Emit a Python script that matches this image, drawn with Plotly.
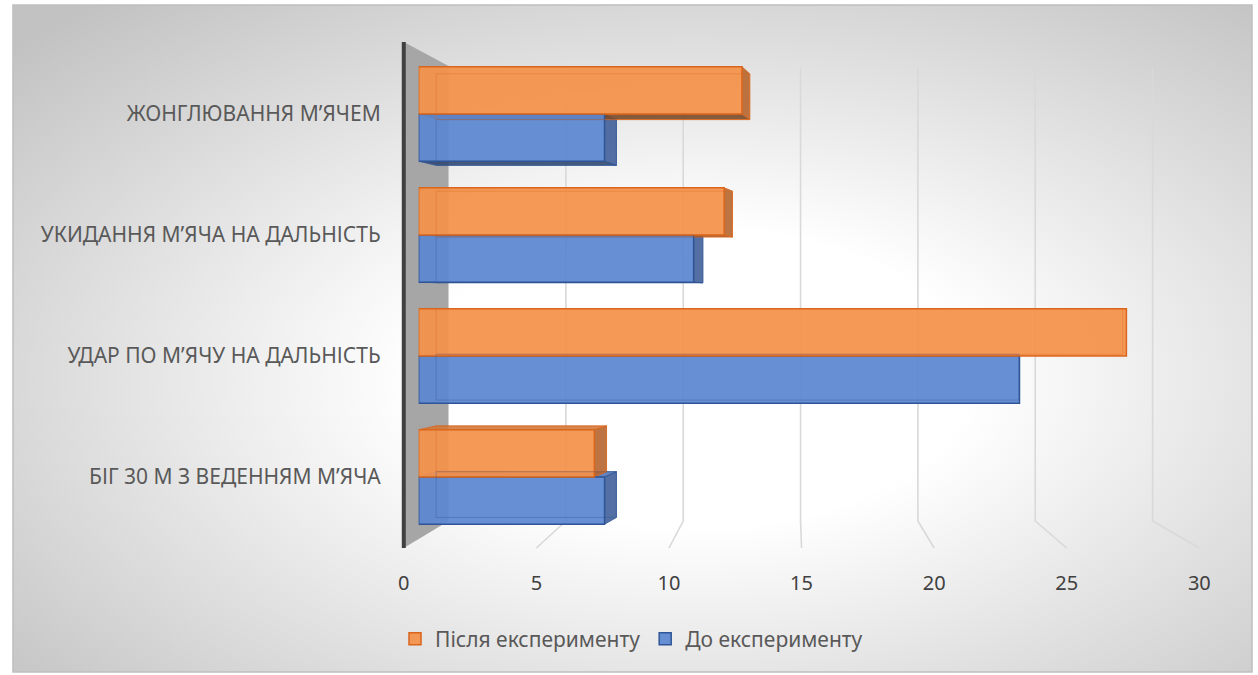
import base64
import plotly.graph_objects as go

# ---- data ----
categories = [
    "БІГ 30 М З ВЕДЕННЯМ М’ЯЧА",
    "УДАР ПО М’ЯЧУ НА ДАЛЬНІСТЬ",
    "УКИДАННЯ М’ЯЧА НА ДАЛЬНІСТЬ",
    "ЖОНГЛЮВАННЯ М’ЯЧЕМ",
]
before = [7.3, 23.6, 10.8, 7.3]   # До експерименту
after = [6.9, 27.8, 12.0, 12.7]   # Після експерименту
series_names = ["До експерименту", "Після експерименту"]
x_ticks = [0, 5, 10, 15, 20, 25, 30]

# ---- geometry (pixels of the 1258x675 canvas) ----
W, H = 1258, 675
FIG_W = 1268                        # page width the figure is laid out on
X_MAX = 30
BAR_X0, BAR_X1 = 415, 1183          # bar plane: value 0 .. 30
FRONT_X0, FRONT_X1 = 400, 1200      # floor front edge (tick labels)
BACK_X0, BACK_X1 = 445, 1153        # back wall plane (gridlines)
PLOT_TOP, PLOT_BOT = 53.5, 537.5    # category band range
BACK_TOP, BACK_BOT, FLOOR_Y = 68, 521, 548
WALL_TOP = 42
BARGAP = 0.22

def px(x):
    return x / W

def py(y):
    return 1 - y / H

FONT = "Noto Sans"
TXT = "#595959"

ORANGE = dict(fill="rgba(244,145,74,0.93)", line="#D9661C",
              right="#B8662E", top="#D27A3C", bottom="#7A4B2B")
BLUE = dict(fill="rgba(91,135,208,0.93)", line="#2F5597",
            right="#41609A", top="#5577B8", bottom="#33496F")

fig = go.Figure()
fig.add_trace(go.Bar(
    y=categories, x=before, name=series_names[0], orientation="h",
    marker=dict(color=BLUE["fill"], line=dict(color=BLUE["line"], width=1.5)),
))
fig.add_trace(go.Bar(
    y=categories, x=after, name=series_names[1], orientation="h",
    marker=dict(color=ORANGE["fill"], line=dict(color=ORANGE["line"], width=1.5)),
))
# carrier for the front-edge value axis
fig.add_trace(go.Scatter(
    x=[0, X_MAX], y=[categories[0], categories[0]], xaxis="x2", yaxis="y",
    mode="none", showlegend=False, hoverinfo="skip",
))

shapes = []

# side wall with its dark front edge
shapes.append(dict(
    type="path", xref="paper", yref="paper", layer="below",
    path=(f"M {px(FRONT_X0)},{py(WALL_TOP)} L {px(BACK_X0)},{py(BACK_TOP - 2)} "
          f"L {px(BACK_X0)},{py(BACK_BOT)} L {px(FRONT_X0)},{py(FLOOR_Y)} Z"),
    fillcolor="#A6A6A6", line=dict(width=0),
))
shapes.append(dict(
    type="line", xref="paper", yref="paper", layer="below",
    x0=px(FRONT_X0), x1=px(FRONT_X0), y0=py(WALL_TOP), y1=py(FLOOR_Y),
    line=dict(color="#404040", width=4),
))

# perspective gridlines: up the back wall, then across the floor
for v in x_ticks[1:]:
    bx = BACK_X0 + (BACK_X1 - BACK_X0) * v / X_MAX
    fx = FRONT_X0 + (FRONT_X1 - FRONT_X0) * v / X_MAX
    shapes.append(dict(
        type="path", xref="paper", yref="paper", layer="below",
        path=(f"M {px(bx)},{py(BACK_TOP)} L {px(bx)},{py(BACK_BOT)} "
              f"L {px(fx)},{py(FLOOR_Y)}"),
        line=dict(color="#D9D9D9", width=1.6),
    ))

# depth faces of the boxes, receding toward a vanishing point
px_per_x = (BAR_X1 - BAR_X0) / X_MAX
px_per_cat = (PLOT_BOT - PLOT_TOP) / len(categories)
VP_PX = (1000, 300)
DEPTH = 0.03
vp = ((VP_PX[0] - BAR_X0) / px_per_x, -0.5 + (PLOT_BOT - VP_PX[1]) / px_per_cat)
bar_w = (1 - BARGAP) / 2

def recede(x, y):
    return x + DEPTH * (vp[0] - x), y + DEPTH * (vp[1] - y)

def poly(points):
    return "M " + " L ".join(f"{x},{y}" for x, y in points) + " Z"

for k, (vals, style) in enumerate([(before, BLUE), (after, ORANGE)]):
    for i, v in enumerate(vals):
        yb = i - bar_w + k * bar_w
        yt = yb + bar_w
        b0b, b0t = recede(0, yb), recede(0, yt)
        bvb, bvt = recede(v, yb), recede(v, yt)
        faces = []
        if v < vp[0]:
            faces.append(([(v, yb), (v, yt), bvt, bvb], style["right"]))
        if yt < vp[1]:
            faces.append(([(0, yt), (v, yt), bvt, b0t], style["top"]))
        if yb > vp[1]:
            faces.append(([(0, yb), (v, yb), bvb, b0b], style["bottom"]))
        for pts, col in faces:
            shapes.append(dict(
                type="path", xref="x", yref="y", layer="below",
                path=poly(pts), fillcolor=col, opacity=0.9,
                line=dict(color=style["line"], width=1),
            ))
        # faint back outline visible through the translucent box
        shapes.append(dict(
            type="path", xref="x", yref="y", layer="above",
            path=poly([b0b, bvb, bvt, b0t]),
            line=dict(color=style["line"], width=1), opacity=0.35,
        ))

# chart frame
shapes.append(dict(
    type="rect", xref="paper", yref="paper", layer="below",
    x0=px(7), x1=px(1253), y0=py(672), y1=py(5),
    line=dict(color="#BFBFBF", width=1.5),
))

# radial background fill
svg = (
    '<svg xmlns="http://www.w3.org/2000/svg" width="1246" height="667" '
    'preserveAspectRatio="none" viewBox="0 0 1246 667">'
    '<defs><radialGradient id="g" cx="0.55" cy="0.56" r="0.74">'
    '<stop offset="0" stop-color="#ffffff"/>'
    '<stop offset="0.3" stop-color="#ffffff"/>'
    '<stop offset="1" stop-color="#c2c2c2"/>'
    '</radialGradient></defs>'
    '<rect width="1246" height="667" fill="url(#g)"/></svg>'
)
bg_src = "data:image/svg+xml;base64," + base64.b64encode(svg.encode()).decode()

fig.update_layout(
    width=FIG_W, height=H, autosize=False,
    margin=dict(l=0, r=0, t=0, b=0),
    paper_bgcolor="white",
    plot_bgcolor="rgba(0,0,0,0)",
    barmode="group",
    bargap=BARGAP,
    bargroupgap=0,
    font=dict(family=FONT, color=TXT),
    images=[dict(
        source=bg_src, xref="paper", yref="paper",
        x=px(7), y=py(5), sizex=px(1253) - px(7), sizey=py(5) - py(672),
        xanchor="left", yanchor="top", sizing="stretch", layer="below",
    )],
    shapes=shapes,
    xaxis=dict(
        domain=[px(BAR_X0), px(BAR_X1)], range=[0, X_MAX],
        showgrid=False, zeroline=False, showline=False, showticklabels=False,
        fixedrange=True,
    ),
    xaxis2=dict(
        domain=[px(FRONT_X0), px(FRONT_X1)], range=[0, X_MAX],
        anchor="free", position=py(FLOOR_Y),
        tickvals=x_ticks, ticktext=[str(t) for t in x_ticks],
        showgrid=False, zeroline=False, showline=False,
        ticklabelstandoff=21,
        tickfont=dict(family=FONT, size=20, color="#404040"),
        fixedrange=True,
    ),
    yaxis=dict(
        domain=[py(PLOT_BOT), py(PLOT_TOP)],
        categoryorder="array", categoryarray=categories,
        range=[-0.5, len(categories) - 0.5],
        showgrid=False, zeroline=False, showline=False,
        ticklabelstandoff=37,
        tickfont=dict(family=FONT, size=21, color=TXT),
        fixedrange=True,
    ),
    legend=dict(
        orientation="h", x=0.5, xanchor="center", y=py(639), yanchor="middle",
        traceorder="reversed", bgcolor="rgba(0,0,0,0)",
        font=dict(family=FONT, size=21, color=TXT),
        itemwidth=30,
    ),
    showlegend=True,
)

fig.write_html("out.html", config={"responsive": False})
